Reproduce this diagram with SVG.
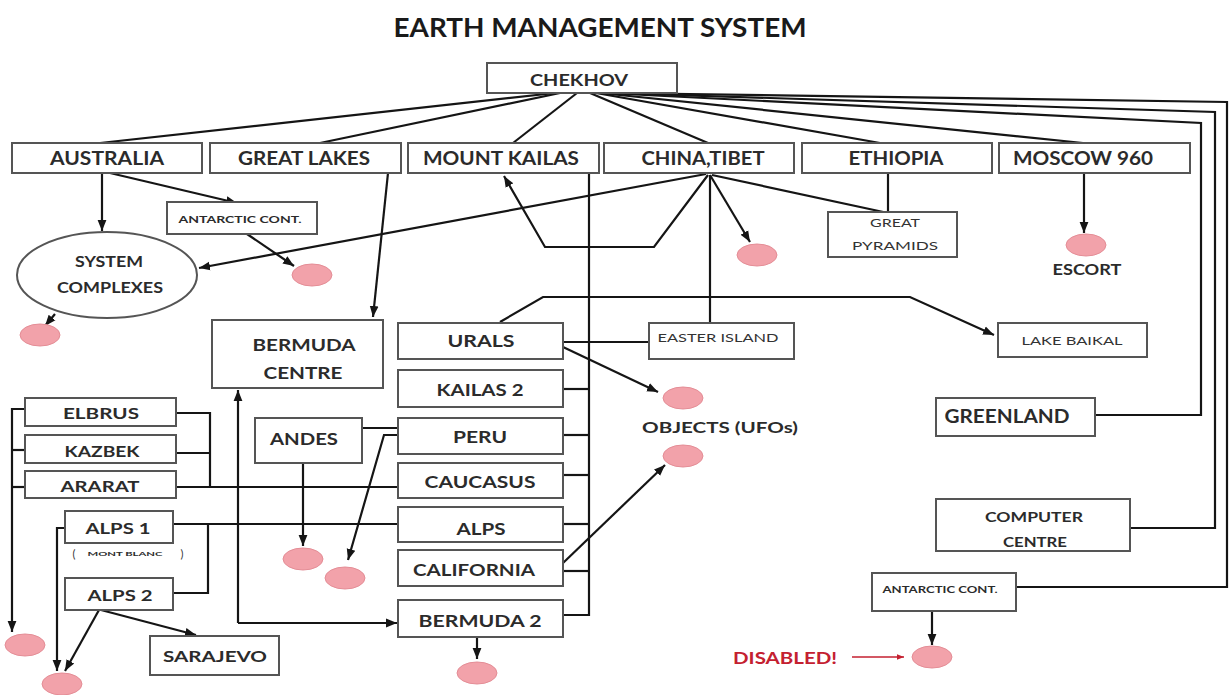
<svg xmlns="http://www.w3.org/2000/svg" width="1229" height="695" viewBox="0 0 1229 695">
<style>
.bx{fill:#fff;stroke:#555;stroke-width:2}
.ln{fill:none;stroke:#151515;stroke-width:2.2}
.t{font-family:Lato,"Open Sans","Liberation Sans",sans-serif;font-weight:700;fill:#2b2b2b;text-anchor:middle}
.n{font-weight:400;fill:#333}
.red{fill:#c42030}
.pk{fill:#f2a2aa;stroke:#e48d96;stroke-width:1}
</style>
<defs>
<marker id="ah" viewBox="0 0 10 10" refX="10" refY="5" markerWidth="11" markerHeight="11" markerUnits="userSpaceOnUse" orient="auto"><path d="M0,1 L10,5 L0,9 z" fill="#151515"/></marker>
<marker id="ar" viewBox="0 0 10 10" refX="10" refY="5" markerWidth="7" markerHeight="7" markerUnits="userSpaceOnUse" orient="auto"><path d="M0,1 L10,5 L0,9 z" fill="#c42030"/></marker>
</defs>
<rect width="1229" height="695" fill="#fff"/>
<text class="t" x="600" y="37" font-size="27" textLength="413" lengthAdjust="spacingAndGlyphs" style="fill:#1a1a1a">EARTH MANAGEMENT SYSTEM</text>

<g id="connectors">
<path class="ln" d="M555,93 L100,143"/>
<path class="ln" d="M560,93 L320,143"/>
<path class="ln" d="M577,93 L513,143"/>
<path class="ln" d="M590,93 L708,143"/>
<path class="ln" d="M596,93 L880,143"/>
<path class="ln" d="M600,93 L1083,143"/>
<path class="ln" d="M605,93 L1201,123 L1201,415 L1095,415"/>
<path class="ln" d="M610,93 L1215,112 L1215,528 L1130,528"/>
<path class="ln" d="M615,93 L1227,102 L1227,587 L1016,587"/>
<path class="ln" d="M110,173 L237,203" marker-end="url(#ah)"/>
<path class="ln" d="M102,173 L102,231" marker-end="url(#ah)"/>
<path class="ln" d="M247,234 L294,266" marker-end="url(#ah)"/>
<path class="ln" d="M55,314 L45,326" marker-end="url(#ah)"/>
<path class="ln" d="M388,173 L373,317" marker-end="url(#ah)"/>
<path class="ln" d="M706,174 L199,268" marker-end="url(#ah)"/>
<path class="ln" d="M708,175 L654,247 L545,247 L504,176" marker-end="url(#ah)"/>
<path class="ln" d="M710,175 L750,242" marker-end="url(#ah)"/>
<path class="ln" d="M710,175 L710,323"/>
<path class="ln" d="M712,175 L888,213"/>
<path class="ln" d="M888,173 L888,212"/>
<path class="ln" d="M1084,173 L1084,233" marker-end="url(#ah)"/>
<path class="ln" d="M500,322 L543,297 L910,297 L994,335" marker-end="url(#ah)"/>
<path class="ln" d="M589,173 L589,615 L563,615"/>
<path class="ln" d="M563,342 L649,342"/>
<path class="ln" d="M563,389 L589,389"/>
<path class="ln" d="M563,435 L589,435"/>
<path class="ln" d="M563,475 L589,475"/>
<path class="ln" d="M563,524 L589,524"/>
<path class="ln" d="M563,571 L589,571"/>
<path class="ln" d="M563,347 L658,392" marker-end="url(#ah)"/>
<path class="ln" d="M563,563 L665,465" marker-end="url(#ah)"/>
<path class="ln" d="M477,637 L477,659" marker-end="url(#ah)"/>
<path class="ln" d="M932,611 L932,645" marker-end="url(#ah)"/>
<path fill="none" stroke="#c42030" stroke-width="1.3" d="M852,657 L904,657" marker-end="url(#ar)"/>
<path class="ln" d="M362,428 L398,428"/>
<path class="ln" d="M398,435 L384,435 L348,560" marker-end="url(#ah)"/>
<path class="ln" d="M303,463 L303,546" marker-end="url(#ah)"/>
<path class="ln" d="M238,623 L238,390" marker-end="url(#ah)"/>
<path class="ln" d="M238,623 L397,623" marker-end="url(#ah)"/>
<path class="ln" d="M25,409 L12,409 L12,632" marker-end="url(#ah)"/>
<path class="ln" d="M12,450 L25,450"/>
<path class="ln" d="M12,487 L25,487"/>
<path class="ln" d="M176,413 L210,413 L210,487"/>
<path class="ln" d="M176,453 L210,453"/>
<path class="ln" d="M176,487 L398,487"/>
<path class="ln" d="M173,524 L398,524"/>
<path class="ln" d="M173,593 L208,593 L208,524"/>
<path class="ln" d="M65,528 L57,528 L57,671" marker-end="url(#ah)"/>
<path class="ln" d="M99,610 L65,671" marker-end="url(#ah)"/>
<path class="ln" d="M101,610 L196,635" marker-end="url(#ah)"/>
</g>

<g id="chekhov"><rect class="bx" x="487" y="63" width="190" height="30"/><text class="t" x="579" y="86" font-size="17" textLength="98" lengthAdjust="spacingAndGlyphs">CHEKHOV</text></g>
<g id="australia"><rect class="bx" x="12" y="143" width="190" height="30"/><text class="t" x="107" y="165" font-size="18" textLength="114" lengthAdjust="spacingAndGlyphs">AUSTRALIA</text></g>
<g id="great-lakes"><rect class="bx" x="210" y="143" width="191" height="30"/><text class="t" x="304" y="165" font-size="18" textLength="132" lengthAdjust="spacingAndGlyphs">GREAT LAKES</text></g>
<g id="mount-kailas"><rect class="bx" x="408" y="143" width="191" height="30"/><text class="t" x="501" y="165" font-size="18" textLength="156" lengthAdjust="spacingAndGlyphs">MOUNT KAILAS</text></g>
<g id="china-tibet"><rect class="bx" x="604" y="143" width="190" height="30"/><text class="t" x="703" y="165" font-size="18" textLength="123" lengthAdjust="spacingAndGlyphs">CHINA,TIBET</text></g>
<g id="ethiopia"><rect class="bx" x="802" y="143" width="190" height="30"/><text class="t" x="896" y="165" font-size="18" textLength="95" lengthAdjust="spacingAndGlyphs">ETHIOPIA</text></g>
<g id="moscow-960"><rect class="bx" x="999" y="143" width="191" height="30"/><text class="t" x="1083" y="165" font-size="18" textLength="140" lengthAdjust="spacingAndGlyphs">MOSCOW 960</text></g>

<g id="antarctic-cont-1"><rect class="bx" x="167" y="202" width="150" height="32"/><text class="t" x="240" y="223" font-size="10" textLength="123" lengthAdjust="spacingAndGlyphs">ANTARCTIC CONT.</text></g>
<g id="system-complexes"><ellipse cx="107" cy="275" rx="90" ry="43" fill="#fff" stroke="#555" stroke-width="2"/><text class="t" x="109" y="267" font-size="15" textLength="68" lengthAdjust="spacingAndGlyphs">SYSTEM</text><text class="t" x="110" y="293" font-size="15" textLength="106" lengthAdjust="spacingAndGlyphs">COMPLEXES</text></g>
<g id="great-pyramids"><rect class="bx" x="828" y="212" width="129" height="45"/><text class="t n" x="895" y="227" font-size="12" textLength="50" lengthAdjust="spacingAndGlyphs">GREAT</text><text class="t n" x="895" y="250" font-size="12" textLength="86" lengthAdjust="spacingAndGlyphs">PYRAMIDS</text></g>
<g id="escort"><ellipse class="pk" cx="1086" cy="245" rx="20" ry="11"/><text class="t" x="1087" y="275" font-size="15" textLength="69" lengthAdjust="spacingAndGlyphs">ESCORT</text></g>

<g id="pink-1"><ellipse class="pk" cx="312" cy="275" rx="20" ry="11"/></g>
<g id="pink-2"><ellipse class="pk" cx="40" cy="335" rx="20" ry="11"/></g>
<g id="pink-3"><ellipse class="pk" cx="757" cy="255" rx="20" ry="11"/></g>

<g id="bermuda-centre"><rect class="bx" x="212" y="320" width="171" height="68"/><text class="t" x="304" y="351" font-size="17" textLength="103" lengthAdjust="spacingAndGlyphs">BERMUDA</text><text class="t" x="303" y="379" font-size="17" textLength="79" lengthAdjust="spacingAndGlyphs">CENTRE</text></g>
<g id="urals"><rect class="bx" x="398" y="323" width="165" height="36"/><text class="t" x="481" y="347" font-size="17" textLength="67" lengthAdjust="spacingAndGlyphs">URALS</text></g>
<g id="kailas-2"><rect class="bx" x="398" y="370" width="165" height="37"/><text class="t" x="480" y="396" font-size="17" textLength="87" lengthAdjust="spacingAndGlyphs">KAILAS 2</text></g>
<g id="peru"><rect class="bx" x="398" y="418" width="165" height="36"/><text class="t" x="480" y="443" font-size="17" textLength="54" lengthAdjust="spacingAndGlyphs">PERU</text></g>
<g id="caucasus"><rect class="bx" x="398" y="463" width="165" height="35"/><text class="t" x="480" y="488" font-size="17" textLength="111" lengthAdjust="spacingAndGlyphs">CAUCASUS</text></g>
<g id="alps"><rect class="bx" x="398" y="507" width="165" height="35"/><text class="t" x="481" y="535" font-size="17" textLength="49" lengthAdjust="spacingAndGlyphs">ALPS</text></g>
<g id="california"><rect class="bx" x="398" y="550" width="165" height="36"/><text class="t" x="474" y="576" font-size="17" textLength="122" lengthAdjust="spacingAndGlyphs">CALIFORNIA</text></g>
<g id="bermuda-2"><rect class="bx" x="398" y="600" width="165" height="37"/><text class="t" x="480" y="627" font-size="17" textLength="123" lengthAdjust="spacingAndGlyphs">BERMUDA 2</text></g>
<g id="pink-bermuda-2"><ellipse class="pk" cx="477" cy="673" rx="20" ry="11"/></g>

<g id="easter-island"><rect class="bx" x="649" y="323" width="145" height="36"/><text class="t n" x="718" y="342" font-size="12" textLength="121" lengthAdjust="spacingAndGlyphs">EASTER ISLAND</text></g>
<g id="lake-baikal"><rect class="bx" x="998" y="323" width="149" height="34"/><text class="t n" x="1072" y="345" font-size="11" textLength="101" lengthAdjust="spacingAndGlyphs">LAKE BAIKAL</text></g>
<g id="objects-ufos"><ellipse class="pk" cx="683" cy="398" rx="20" ry="11"/><text class="t" x="720" y="433" font-size="16" textLength="156" lengthAdjust="spacingAndGlyphs">OBJECTS (UFOs)</text><ellipse class="pk" cx="683" cy="456" rx="20" ry="11"/></g>

<g id="greenland"><rect class="bx" x="936" y="398" width="159" height="38"/><text class="t" x="1007" y="423" font-size="18" textLength="125" lengthAdjust="spacingAndGlyphs">GREENLAND</text></g>
<g id="computer-centre"><rect class="bx" x="936" y="499" width="194" height="52"/><text class="t" x="1034" y="522" font-size="14" textLength="98" lengthAdjust="spacingAndGlyphs">COMPUTER</text><text class="t" x="1035" y="547" font-size="14" textLength="64" lengthAdjust="spacingAndGlyphs">CENTRE</text></g>
<g id="antarctic-cont-2"><rect class="bx" x="872" y="573" width="144" height="38"/><text class="t" x="940" y="593" font-size="9" textLength="115" lengthAdjust="spacingAndGlyphs">ANTARCTIC CONT.</text></g>
<g id="disabled"><text class="t red" x="785" y="664" font-size="17" textLength="104" lengthAdjust="spacingAndGlyphs">DISABLED!</text><ellipse class="pk" cx="932" cy="657" rx="20" ry="11"/></g>

<g id="andes"><rect class="bx" x="255" y="418" width="107" height="45"/><text class="t" x="304" y="445" font-size="17" textLength="68" lengthAdjust="spacingAndGlyphs">ANDES</text></g>
<g id="pink-andes"><ellipse class="pk" cx="303" cy="559" rx="20" ry="11"/></g>
<g id="pink-peru"><ellipse class="pk" cx="345" cy="578" rx="20" ry="11"/></g>

<g id="elbrus"><rect class="bx" x="25" y="398" width="151" height="28"/><text class="t" x="101" y="419" font-size="16" textLength="76" lengthAdjust="spacingAndGlyphs">ELBRUS</text></g>
<g id="kazbek"><rect class="bx" x="25" y="435" width="151" height="28"/><text class="t" x="102" y="457" font-size="16" textLength="75" lengthAdjust="spacingAndGlyphs">KAZBEK</text></g>
<g id="ararat"><rect class="bx" x="25" y="471" width="151" height="27"/><text class="t" x="100" y="492" font-size="16" textLength="79" lengthAdjust="spacingAndGlyphs">ARARAT</text></g>
<g id="alps-1"><rect class="bx" x="65" y="511" width="108" height="32"/><text class="t" x="118" y="534" font-size="16" textLength="65" lengthAdjust="spacingAndGlyphs">ALPS 1</text>
<text class="t n" x="74" y="558" font-size="11">(</text><text class="t" x="125" y="556" font-size="6" textLength="75" lengthAdjust="spacingAndGlyphs">MONT BLANC</text><text class="t n" x="182" y="558" font-size="11">)</text></g>
<g id="alps-2"><rect class="bx" x="65" y="578" width="108" height="32"/><text class="t" x="120" y="601" font-size="16" textLength="65" lengthAdjust="spacingAndGlyphs">ALPS 2</text></g>
<g id="sarajevo"><rect class="bx" x="150" y="636" width="129" height="39"/><text class="t" x="215" y="662" font-size="16" textLength="104" lengthAdjust="spacingAndGlyphs">SARAJEVO</text></g>
<g id="pink-left-1"><ellipse class="pk" cx="25" cy="645" rx="20" ry="11"/></g>
<g id="pink-left-2"><ellipse class="pk" cx="62" cy="684" rx="20" ry="11"/></g>
</svg>
